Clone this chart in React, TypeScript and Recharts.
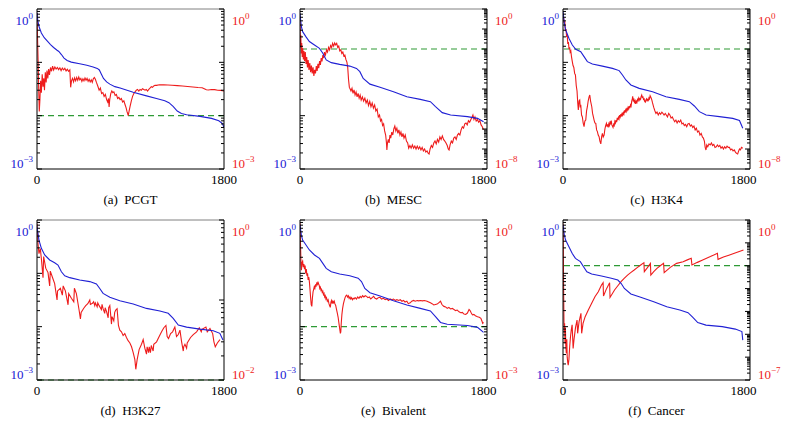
import React from 'react';
import { ComposedChart, Line, XAxis, YAxis, ReferenceLine } from 'recharts';

type Pt = [number, number];

// ---- series (x = iteration, y = value) ----
const pcgtBlue: Pt[] = [[0, 0.85], [8, 0.6], [19, 0.47], [42, 0.355], [70, 0.29], [100, 0.25], [130, 0.215], [160, 0.19], [190, 0.17], [210, 0.16], [235, 0.14], [260, 0.12], [290, 0.108], [330, 0.101], [411, 0.094], [480, 0.088], [540, 0.082], [580, 0.077], [600, 0.072], [620, 0.06], [640, 0.05], [670, 0.043], [701, 0.039], [750, 0.035], [800, 0.033], [926, 0.0275], [1054, 0.0235], [1150, 0.021], [1230, 0.019], [1270, 0.0175], [1310, 0.015], [1350, 0.0122], [1390, 0.011], [1440, 0.0104], [1569, 0.0097], [1680, 0.0089], [1750, 0.008], [1785, 0.0071], [1800, 0.006]];
const pcgtRed: Pt[] = [[0, 0.84], [5, 0.3], [10, 0.12], [15, 0.04], [22, 0.012], [28, 0.02], [35, 0.045], [42, 0.027], [50, 0.06], [58, 0.035], [65, 0.05], [72, 0.03], [80, 0.065], [88, 0.042], [96, 0.07], [104, 0.05], [112, 0.075], [120, 0.058], [130, 0.08], [140, 0.068], [150, 0.085], [160, 0.072], [172, 0.082], [184, 0.075], [196, 0.08], [208, 0.073], [220, 0.079], [232, 0.07], [244, 0.078], [256, 0.072], [268, 0.077], [280, 0.069], [292, 0.074], [304, 0.068], [316, 0.072], [324, 0.034], [332, 0.045], [342, 0.05], [352, 0.043], [362, 0.051], [372, 0.045], [382, 0.052], [392, 0.046], [402, 0.053], [412, 0.047], [422, 0.05], [432, 0.044], [442, 0.049], [452, 0.045], [462, 0.051], [472, 0.046], [482, 0.05], [492, 0.044], [502, 0.048], [512, 0.043], [522, 0.047], [532, 0.042], [542, 0.049], [552, 0.052], [562, 0.048], [572, 0.042], [585, 0.036], [598, 0.03], [610, 0.033], [622, 0.026], [634, 0.027], [646, 0.023], [658, 0.025], [670, 0.02], [680, 0.018], [688, 0.021], [694, 0.0146], [700, 0.02], [710, 0.026], [720, 0.029], [730, 0.027], [740, 0.028], [752, 0.024], [764, 0.025], [776, 0.021], [788, 0.022], [800, 0.02], [812, 0.021], [824, 0.018], [836, 0.019], [848, 0.016], [858, 0.014], [866, 0.012], [872, 0.011], [878, 0.01], [886, 0.012], [896, 0.015], [908, 0.019], [920, 0.023], [932, 0.026], [944, 0.028], [956, 0.03], [968, 0.031], [980, 0.029], [992, 0.031], [1004, 0.03], [1016, 0.032], [1028, 0.031], [1040, 0.03], [1052, 0.031], [1064, 0.029], [1076, 0.031], [1088, 0.033], [1100, 0.035], [1112, 0.034], [1124, 0.036], [1136, 0.037], [1150, 0.037], [1180, 0.038], [1220, 0.0378], [1260, 0.0376], [1300, 0.0372], [1350, 0.0366], [1400, 0.036], [1450, 0.0353], [1500, 0.0345], [1550, 0.0338], [1590, 0.0334], [1610, 0.032], [1630, 0.0305], [1650, 0.0302], [1680, 0.031], [1710, 0.0308], [1740, 0.03], [1770, 0.0298], [1800, 0.029]];

const mescBlue: Pt[] = [[0, 0.83], [13, 0.47], [26, 0.376], [59, 0.3], [92, 0.245], [142, 0.211], [191, 0.183], [224, 0.148], [257, 0.111], [307, 0.0986], [389, 0.0917], [488, 0.085], [554, 0.077], [587, 0.0668], [620, 0.05], [686, 0.039], [785, 0.034], [917, 0.028], [1048, 0.0227], [1180, 0.0202], [1279, 0.0183], [1329, 0.0148], [1395, 0.0114], [1477, 0.0103], [1642, 0.0096], [1741, 0.0089], [1800, 0.0077]];
const mescRed: Pt[] = [[0, 0.3], [4, 0.012], [8, 0.05], [12, 0.006], [17, 0.02], [22, 0.004], [27, 0.011], [33, 0.003], [39, 0.008], [45, 0.0025], [52, 0.007], [59, 0.0018], [66, 0.004], [73, 0.0012], [80, 0.0028], [88, 0.0009], [96, 0.002], [104, 0.0007], [112, 0.0015], [120, 0.0006], [128, 0.0012], [136, 0.00045], [144, 0.0009], [152, 0.0006], [160, 0.0014], [168, 0.0008], [176, 0.0018], [184, 0.0011], [192, 0.0025], [200, 0.0016], [208, 0.0035], [216, 0.0024], [224, 0.005], [232, 0.0035], [240, 0.007], [250, 0.005], [260, 0.009], [270, 0.007], [280, 0.012], [290, 0.009], [300, 0.015], [310, 0.012], [320, 0.019], [330, 0.014], [340, 0.02], [350, 0.016], [360, 0.019], [370, 0.012], [380, 0.014], [390, 0.008], [400, 0.009], [410, 0.006], [420, 0.007], [430, 0.0045], [440, 0.005], [450, 0.003], [460, 0.0022], [468, 0.0012], [476, 0.0003], [484, 0.00012], [492, 0.0001], [500, 8e-5], [510, 1.1e-4], [520, 6e-5], [530, 9e-5], [540, 5e-5], [550, 7e-5], [560, 4e-5], [570, 6e-5], [580, 3.5e-5], [590, 5e-5], [600, 2.8e-5], [612, 4e-5], [624, 2.5e-5], [636, 3.5e-5], [648, 2e-5], [660, 2.8e-5], [672, 1.5e-5], [684, 2.4e-5], [696, 1.3e-5], [708, 2e-5], [720, 1.1e-5], [732, 1.6e-5], [744, 8e-6], [756, 1e-5], [768, 4e-6], [780, 5e-6], [790, 2.5e-6], [800, 3e-6], [810, 1.5e-6], [820, 1.8e-6], [830, 8e-7], [840, 5e-7], [848, 2e-7], [852, 9e-8], [858, 2e-7], [866, 3e-7], [874, 2e-7], [882, 5e-7], [890, 3.5e-7], [900, 7e-7], [910, 5e-7], [920, 1e-6], [930, 1.4e-6], [940, 8e-7], [950, 1.1e-6], [960, 6e-7], [970, 9e-7], [980, 5e-7], [990, 7e-7], [1000, 4e-7], [1010, 6e-7], [1020, 3.5e-7], [1032, 5e-7], [1044, 2.5e-7], [1056, 2e-7], [1066, 1.1e-7], [1078, 1.5e-7], [1090, 1.1e-7], [1102, 1.6e-7], [1114, 1.1e-7], [1126, 1.4e-7], [1138, 1e-7], [1150, 1.4e-7], [1162, 1e-7], [1174, 1.3e-7], [1186, 9e-8], [1198, 1.2e-7], [1210, 8e-8], [1222, 1e-7], [1234, 7e-8], [1246, 8e-8], [1258, 6e-8], [1266, 5.6e-8], [1276, 1e-7], [1288, 1.5e-7], [1300, 1.2e-7], [1312, 2e-7], [1324, 2.5e-7], [1336, 1.8e-7], [1348, 3e-7], [1360, 2.2e-7], [1372, 4e-7], [1384, 3e-7], [1396, 4.5e-7], [1408, 3e-7], [1420, 2.5e-7], [1432, 2e-7], [1444, 1.5e-7], [1454, 1e-7], [1462, 8.9e-8], [1472, 1.6e-7], [1484, 2.5e-7], [1496, 2e-7], [1508, 3.5e-7], [1520, 4e-7], [1532, 3e-7], [1544, 5e-7], [1556, 6e-7], [1568, 5e-7], [1580, 9e-7], [1592, 1.3e-6], [1604, 1.1e-6], [1616, 1.8e-6], [1628, 2e-6], [1640, 1.6e-6], [1652, 2.6e-6], [1664, 2.2e-6], [1676, 3e-6], [1688, 4e-6], [1696, 5e-6], [1706, 3e-6], [1716, 4e-6], [1728, 2.5e-6], [1740, 3e-6], [1752, 2.2e-6], [1764, 2.6e-6], [1776, 1.6e-6], [1788, 1.3e-6], [1800, 9e-7]];

const h3k4Blue: Pt[] = [[0, 0.89], [13, 0.54], [27, 0.404], [60, 0.28], [93, 0.211], [127, 0.175], [177, 0.158], [210, 0.128], [243, 0.103], [293, 0.093], [393, 0.085], [493, 0.077], [560, 0.07], [593, 0.058], [627, 0.0467], [677, 0.0376], [760, 0.0325], [893, 0.028], [1027, 0.0227], [1160, 0.0202], [1260, 0.0183], [1310, 0.0152], [1360, 0.0119], [1427, 0.0103], [1560, 0.0096], [1693, 0.0089], [1760, 0.0081], [1793, 0.0058]];
const h3k4Red: Pt[] = [[0, 0.6], [6, 0.35], [12, 0.2], [18, 0.25], [24, 0.08], [30, 0.1], [36, 0.04], [42, 0.05], [48, 0.018], [54, 0.022], [60, 0.01], [66, 0.012], [72, 0.007], [78, 0.008], [85, 0.004], [92, 0.0025], [100, 0.0015], [108, 0.0012], [116, 0.0006], [124, 0.0005], [132, 0.00015], [140, 8e-5], [147, 2e-5], [153, 9e-6], [160, 2.5e-5], [167, 2.8e-5], [172, 1.2e-5], [177, 1.6e-5], [185, 5e-6], [193, 4e-6], [201, 2e-6], [210, 1.3e-6], [218, 2.5e-6], [227, 2.8e-6], [235, 8e-6], [243, 1.3e-5], [251, 2.5e-5], [260, 4e-5], [267, 5e-5], [275, 2.5e-5], [287, 1.3e-5], [295, 6e-6], [303, 4e-6], [310, 2.8e-6], [318, 2e-6], [327, 1.9e-6], [335, 9e-7], [343, 7.4e-7], [351, 5e-7], [360, 4.1e-7], [368, 2.5e-7], [377, 1.8e-7], [385, 4e-7], [393, 6.1e-7], [401, 4e-7], [410, 5e-7], [418, 1e-6], [426, 1.5e-6], [433, 1.9e-6], [439, 1.3e-6], [445, 1.7e-6], [451, 1.2e-6], [457, 1.8e-6], [463, 1.5e-6], [469, 2.4e-6], [475, 1.9e-6], [481, 2.6e-6], [487, 1.6e-6], [493, 1.4e-6], [499, 1.2e-6], [505, 1.7e-6], [511, 1.5e-6], [517, 2.4e-6], [523, 2e-6], [529, 2.8e-6], [535, 2.2e-6], [541, 3.6e-6], [547, 2.8e-6], [553, 3.8e-6], [559, 3.2e-6], [565, 5e-6], [571, 4e-6], [577, 5.5e-6], [583, 4.2e-6], [589, 6.5e-6], [595, 5e-6], [601, 6.5e-6], [607, 5.5e-6], [613, 8.5e-6], [619, 6.5e-6], [625, 9e-6], [631, 7.5e-6], [637, 1.15e-5], [643, 9e-6], [649, 1.2e-5], [655, 1e-5], [661, 1.4e-5], [667, 1.1e-5], [673, 1.6e-5], [679, 1.4e-5], [685, 2.4e-5], [691, 3.2e-5], [695, 4.3e-5], [701, 2.6e-5], [707, 3e-5], [713, 2.2e-5], [719, 2.6e-5], [725, 1.8e-5], [731, 2.4e-5], [737, 2.1e-5], [743, 3e-5], [749, 2.6e-5], [755, 3.5e-5], [761, 2.8e-5], [767, 3.3e-5], [773, 3e-5], [779, 4.2e-5], [785, 5e-5], [791, 3.8e-5], [797, 4e-5], [803, 3e-5], [809, 3.2e-5], [815, 2.4e-5], [821, 2.2e-5], [827, 2.8e-5], [833, 3.2e-5], [839, 2.6e-5], [845, 3e-5], [851, 2.7e-5], [857, 3.6e-5], [863, 3.2e-5], [869, 4.6e-5], [875, 4e-5], [881, 3.4e-5], [887, 2.7e-5], [893, 2e-5], [905, 1.2e-5], [917, 8e-6], [927, 6e-6], [938, 7e-6], [950, 5e-6], [962, 6.5e-6], [974, 5.5e-6], [986, 7e-6], [996, 6.1e-6], [1008, 5e-6], [1020, 6e-6], [1030, 5e-6], [1042, 4e-6], [1054, 6e-6], [1066, 5e-6], [1078, 3.5e-6], [1090, 4e-6], [1102, 3e-6], [1114, 2.3e-6], [1126, 2.8e-6], [1138, 2e-6], [1150, 2.6e-6], [1162, 2.2e-6], [1174, 2.8e-6], [1186, 1.8e-6], [1198, 2e-6], [1210, 1.5e-6], [1222, 1.7e-6], [1234, 1.3e-6], [1246, 1.8e-6], [1258, 1.9e-6], [1270, 1.4e-6], [1282, 1.6e-6], [1294, 1.2e-6], [1306, 1.4e-6], [1318, 9e-7], [1330, 1.1e-6], [1342, 7e-7], [1354, 8e-7], [1366, 5e-7], [1378, 6e-7], [1390, 4e-7], [1400, 3.5e-7], [1410, 2.5e-7], [1418, 1.2e-7], [1426, 8.9e-8], [1434, 1.6e-7], [1444, 1.3e-7], [1456, 1.8e-7], [1468, 1.6e-7], [1480, 2e-7], [1492, 1.5e-7], [1504, 1.7e-7], [1516, 1.2e-7], [1528, 1.3e-7], [1540, 1.6e-7], [1552, 1.3e-7], [1564, 1.5e-7], [1576, 1.1e-7], [1588, 1.3e-7], [1600, 1e-7], [1612, 1.3e-7], [1624, 1.1e-7], [1636, 1.4e-7], [1648, 1.2e-7], [1660, 1.2e-7], [1672, 9e-8], [1684, 1e-7], [1696, 8e-8], [1708, 9e-8], [1720, 7e-8], [1730, 6e-8], [1742, 5.6e-8], [1752, 8e-8], [1760, 1e-7], [1770, 9e-8], [1780, 1.2e-7], [1793, 1.1e-7]];

const h3k27Blue: Pt[] = [[0, 0.75], [19, 0.42], [42, 0.294], [74, 0.221], [122, 0.178], [170, 0.158], [202, 0.143], [235, 0.107], [267, 0.09], [315, 0.083], [411, 0.075], [508, 0.07], [572, 0.063], [604, 0.052], [636, 0.042], [701, 0.0355], [797, 0.0307], [926, 0.0266], [1054, 0.022], [1183, 0.0197], [1263, 0.0178], [1311, 0.0143], [1360, 0.0107], [1440, 0.0098], [1568, 0.009], [1697, 0.0084], [1760, 0.0075], [1790, 0.0056]];
const h3k27Red: Pt[] = [[0, 0.9], [10, 0.5], [19, 0.38], [32, 0.44], [45, 0.3], [58, 0.19], [64, 0.35], [84, 0.25], [106, 0.22], [122, 0.15], [128, 0.23], [150, 0.19], [170, 0.16], [193, 0.1], [198, 0.13], [225, 0.14], [244, 0.115], [252, 0.15], [273, 0.13], [299, 0.087], [305, 0.12], [331, 0.105], [354, 0.095], [360, 0.14], [379, 0.12], [405, 0.075], [418, 0.058], [425, 0.07], [450, 0.079], [469, 0.085], [489, 0.09], [508, 0.1], [514, 0.088], [534, 0.091], [545, 0.095], [556, 0.085], [562, 0.092], [579, 0.082], [585, 0.092], [598, 0.085], [620, 0.076], [626, 0.088], [636, 0.078], [652, 0.068], [656, 0.08], [669, 0.072], [685, 0.06], [690, 0.08], [701, 0.085], [717, 0.05], [722, 0.062], [739, 0.055], [748, 0.07], [758, 0.075], [771, 0.078], [784, 0.048], [797, 0.042], [813, 0.04], [829, 0.036], [845, 0.038], [861, 0.034], [877, 0.031], [894, 0.029], [910, 0.026], [926, 0.022], [942, 0.018], [951, 0.0136], [964, 0.018], [983, 0.024], [1006, 0.028], [1022, 0.032], [1038, 0.025], [1054, 0.021], [1060, 0.026], [1074, 0.022], [1080, 0.026], [1092, 0.022], [1100, 0.027], [1118, 0.023], [1124, 0.028], [1151, 0.03], [1176, 0.035], [1199, 0.04], [1221, 0.045], [1241, 0.048], [1253, 0.035], [1266, 0.033], [1286, 0.038], [1305, 0.04], [1327, 0.046], [1343, 0.035], [1360, 0.037], [1376, 0.042], [1392, 0.03], [1408, 0.023], [1412, 0.026], [1424, 0.028], [1440, 0.025], [1446, 0.029], [1478, 0.034], [1504, 0.037], [1536, 0.04], [1562, 0.045], [1581, 0.04], [1588, 0.043], [1626, 0.046], [1639, 0.04], [1665, 0.044], [1691, 0.038], [1703, 0.03], [1716, 0.026], [1736, 0.029], [1761, 0.032]];

const bivalentBlue: Pt[] = [[0, 0.81], [13, 0.52], [26, 0.42], [59, 0.34], [92, 0.274], [142, 0.221], [191, 0.191], [224, 0.154], [257, 0.124], [307, 0.107], [389, 0.097], [488, 0.09], [570, 0.081], [603, 0.07], [636, 0.052], [686, 0.0434], [785, 0.0376], [917, 0.0307], [1048, 0.0255], [1180, 0.022], [1279, 0.0197], [1329, 0.0154], [1378, 0.012], [1444, 0.0111], [1642, 0.0105], [1741, 0.0097], [1800, 0.0078]];
const bivalentRed: Pt[] = [[0, 0.87], [5, 0.35], [10, 0.15], [14, 0.115], [20, 0.16], [26, 0.17], [32, 0.13], [38, 0.15], [44, 0.12], [50, 0.14], [56, 0.1], [62, 0.12], [68, 0.09], [74, 0.1], [80, 0.075], [86, 0.085], [92, 0.07], [98, 0.05], [104, 0.035], [110, 0.026], [116, 0.024], [122, 0.035], [128, 0.045], [134, 0.05], [140, 0.056], [146, 0.052], [152, 0.06], [158, 0.058], [164, 0.065], [170, 0.062], [176, 0.07], [182, 0.063], [188, 0.06], [194, 0.052], [200, 0.055], [206, 0.048], [212, 0.05], [218, 0.044], [224, 0.046], [230, 0.04], [236, 0.042], [242, 0.036], [248, 0.038], [254, 0.033], [260, 0.035], [268, 0.03], [276, 0.032], [284, 0.027], [290, 0.025], [297, 0.023], [304, 0.029], [310, 0.031], [316, 0.027], [323, 0.03], [330, 0.028], [336, 0.03], [342, 0.027], [350, 0.025], [358, 0.021], [366, 0.018], [374, 0.015], [382, 0.0115], [390, 0.009], [396, 0.0075], [400, 0.008], [405, 0.012], [411, 0.017], [418, 0.022], [426, 0.027], [434, 0.031], [442, 0.035], [450, 0.038], [458, 0.039], [466, 0.036], [474, 0.038], [482, 0.034], [490, 0.036], [498, 0.033], [506, 0.035], [514, 0.032], [522, 0.034], [530, 0.033], [540, 0.035], [554, 0.033], [566, 0.036], [578, 0.034], [590, 0.037], [602, 0.035], [614, 0.038], [626, 0.036], [640, 0.038], [653, 0.037], [666, 0.035], [680, 0.036], [694, 0.033], [708, 0.035], [722, 0.037], [736, 0.034], [752, 0.033], [768, 0.035], [785, 0.0355], [800, 0.033], [818, 0.034], [835, 0.032], [851, 0.033], [868, 0.031], [884, 0.033], [900, 0.032], [917, 0.033], [935, 0.031], [950, 0.032], [968, 0.031], [983, 0.032], [1000, 0.03], [1015, 0.031], [1030, 0.029], [1048, 0.03], [1062, 0.027], [1081, 0.028], [1096, 0.03], [1114, 0.031], [1130, 0.03], [1150, 0.031], [1165, 0.0305], [1180, 0.031], [1200, 0.0305], [1220, 0.031], [1246, 0.03], [1262, 0.029], [1279, 0.028], [1295, 0.027], [1312, 0.0255], [1328, 0.026], [1345, 0.0265], [1360, 0.028], [1378, 0.03], [1392, 0.026], [1411, 0.024], [1428, 0.0235], [1444, 0.022], [1460, 0.023], [1476, 0.0215], [1494, 0.022], [1510, 0.021], [1526, 0.02], [1542, 0.0205], [1560, 0.019], [1576, 0.0183], [1592, 0.0185], [1608, 0.0172], [1625, 0.017], [1642, 0.018], [1658, 0.021], [1668, 0.02], [1680, 0.018], [1691, 0.0166], [1705, 0.017], [1720, 0.016], [1741, 0.0154], [1758, 0.015], [1774, 0.0143], [1786, 0.0125], [1792, 0.0115], [1800, 0.012]];

const cancerBlue: Pt[] = [[0, 0.81], [13, 0.52], [26, 0.42], [59, 0.316], [91, 0.237], [124, 0.191], [173, 0.166], [205, 0.133], [238, 0.107], [286, 0.097], [384, 0.089], [482, 0.081], [547, 0.075], [579, 0.065], [612, 0.052], [677, 0.041], [775, 0.0355], [905, 0.0294], [1035, 0.0237], [1165, 0.0205], [1247, 0.0183], [1295, 0.015], [1344, 0.0119], [1426, 0.0107], [1588, 0.01], [1719, 0.009], [1784, 0.0081], [1793, 0.0056]];
const cancerRed: Pt[] = [[0, 0.7], [3, 0.05], [6, 1e-3], [10, 3e-5], [13, 1.2e-5], [16, 3e-5], [20, 4e-6], [24, 2e-5], [28, 3e-6], [33, 1.5e-6], [38, 6e-6], [42, 1e-6], [47, 6e-7], [52, 4.5e-7], [59, 8e-7], [67, 3e-6], [75, 8e-6], [83, 1.6e-5], [91, 2.6e-5], [101, 2.4e-6], [110, 6e-6], [125, 2e-5], [140, 4.2e-5], [146, 1.1e-5], [160, 3.5e-5], [179, 8.3e-5], [186, 1.1e-5], [200, 3e-5], [221, 5.9e-5], [250, 1.1e-4], [286, 2.3e-4], [320, 4.5e-4], [352, 7.3e-4], [384, 1.43e-3], [400, 1.8e-3], [404, 4.7e-4], [430, 9e-4], [465, 1.8e-3], [469, 4.1e-4], [514, 8.7e-4], [545, 1.3e-3], [579, 2e-3], [610, 2.8e-3], [644, 3.9e-3], [675, 5e-3], [710, 6.5e-3], [740, 8.3e-3], [775, 1.08e-2], [807, 1.36e-2], [811, 5.5e-3], [840, 8e-3], [872, 1.27e-2], [876, 3.9e-3], [905, 5.5e-3], [937, 7.7e-3], [970, 1e-2], [1003, 1.27e-2], [1009, 5e-3], [1070, 8.5e-3], [1133, 1.27e-2], [1198, 1.5e-2], [1240, 1.8e-2], [1279, 2.1e-2], [1286, 1.08e-2], [1340, 1.4e-2], [1393, 1.78e-2], [1470, 2.5e-2], [1540, 3.48e-2], [1546, 1.9e-2], [1600, 2.4e-2], [1654, 2.9e-2], [1730, 3.8e-2], [1800, 4.87e-2]];

// ---- axis setup ----
const captions = ['(a)  PCGT', '(b)  MESC', '(c)  H3K4', '(d)  H3K27', '(e)  Bivalent', '(f)  Cancer'];
const blueSeries = [pcgtBlue, mescBlue, h3k4Blue, h3k27Blue, bivalentBlue, cancerBlue];
const redSeries = [pcgtRed, mescRed, h3k4Red, h3k27Red, bivalentRed, cancerRed];
const redFloorExp = [-3, -8, -8, -2, -3, -7];
const blueFloorExp = -3;
const threshold = 1e-2;
const xTicks = [0, 1800];

// ---- layout ----
const COL_LEFT = [37, 300, 563];
const ROW_TOP = [9, 220];
const X_END = [1800, 1834, 1865];
const PLOT_W = 187;
const PLOT_H = 160;
const AXIS_W = 38;
const X_AXIS_H = 30;

const BLUE = '#2020d4';
const RED = '#ee1c1c';
const GREEN = '#2e9a35';
const FONT = "'Liberation Serif', 'Times New Roman', Times, 'DejaVu Serif', serif";

function logTicks(floorExp: number): number[] {
  const out: number[] = [];
  for (let e = floorExp; e < 0; e++) {
    for (let k = 1; k <= 9; k++) out.push(Number((k * Math.pow(10, e)).toPrecision(6)));
  }
  out.push(1);
  return out;
}

function LogTick(props: any) {
  const { x, y, payload, side, color, floorExp } = props;
  const v: number = payload.value;
  const e = Math.floor(Math.log10(v) + 1e-9);
  const mant = v / Math.pow(10, e);
  const major = Math.abs(mant - 1) < 1e-6;
  const dir = side === 'left' ? 1 : -1;
  const len = major ? 5 : 3;
  let label: React.ReactNode = null;
  if (major && (e === 0 || e === floorExp)) {
    const ty = e === 0 ? y + 16 : y - 1;
    const tx = side === 'left' ? x - 4 : x + 8;
    label = (
      <text x={tx} y={ty} textAnchor={side === 'left' ? 'end' : 'start'} fill={color} fontSize={13} style={{ fontFamily: FONT }}>
        10<tspan dy={-6} fontSize={9}>{e === 0 ? '0' : '\u2212' + String(-e)}</tspan>
      </text>
    );
  }
  return (
    <g>
      <line x1={x} x2={x + dir * len} y1={y} y2={y} stroke="#000" strokeWidth={1} />
      {label}
    </g>
  );
}

function XTick(props: any) {
  const { x, y, payload } = props;
  return (
    <text x={x} y={y + 9} textAnchor="middle" fill="#000" fontSize={13} style={{ fontFamily: FONT }}>
      {String(payload.value)}
    </text>
  );
}

const toRows = (pts: Pt[]) => pts.map(([x, y]) => ({ x, y }));

function Panel({ idx }: { idx: number }) {
  const col = idx % 3;
  const row = Math.floor(idx / 3);
  const left = COL_LEFT[col];
  const top = ROW_TOP[row];
  const rFloor = redFloorExp[idx];
  return (
    <>
      <div style={{ position: 'absolute', left: left - AXIS_W, top: top - 9 }}>
        <ComposedChart
          width={PLOT_W + 2 * AXIS_W}
          height={9 + PLOT_H + X_AXIS_H}
          margin={{ top: 9, right: 0, bottom: 0, left: 0 }}
        >
          <XAxis
            type="number"
            dataKey="x"
            domain={[0, X_END[col]]}
            allowDataOverflow
            ticks={xTicks}
            interval={0}
            height={X_AXIS_H}
            tickLine={false}
            tickSize={0}
            tickMargin={6}
            axisLine={{ stroke: '#000' }}
            tick={(p: any) => <XTick {...p} />}
          />
          <YAxis
            yAxisId="L"
            orientation="left"
            scale="log"
            domain={[Math.pow(10, blueFloorExp), 1]}
            allowDataOverflow
            ticks={logTicks(blueFloorExp)}
            interval={0}
            width={AXIS_W}
            tickLine={false}
            tickSize={0}
            tickMargin={0}
            axisLine={{ stroke: '#000' }}
            tick={(p: any) => <LogTick {...p} side="left" color={BLUE} floorExp={blueFloorExp} />}
          />
          <YAxis
            yAxisId="R"
            orientation="right"
            scale="log"
            domain={[Math.pow(10, rFloor), 1]}
            allowDataOverflow
            ticks={logTicks(rFloor)}
            interval={0}
            width={AXIS_W}
            tickLine={false}
            tickSize={0}
            tickMargin={0}
            axisLine={{ stroke: '#000' }}
            tick={(p: any) => <LogTick {...p} side="right" color={RED} floorExp={rFloor} />}
          />
          <ReferenceLine yAxisId="L" y={1} stroke="#808080" strokeWidth={1} />
          <ReferenceLine yAxisId="R" y={threshold} stroke={GREEN} strokeWidth={1.2} strokeDasharray="6 4" />
          <Line
            yAxisId="R"
            data={toRows(redSeries[idx])}
            dataKey="y"
            type="linear"
            stroke={RED}
            strokeWidth={1.1}
            dot={false}
            isAnimationActive={false}
          />
          <Line
            yAxisId="L"
            data={toRows(blueSeries[idx])}
            dataKey="y"
            type="linear"
            stroke={BLUE}
            strokeWidth={1.1}
            dot={false}
            isAnimationActive={false}
          />
        </ComposedChart>
      </div>
      <div
        style={{
          position: 'absolute',
          left,
          top: top + PLOT_H + 23,
          width: PLOT_W,
          textAlign: 'center',
          fontFamily: FONT,
          fontSize: 13,
          lineHeight: '16px',
          whiteSpace: 'pre',
          color: '#000',
        }}
      >
        {captions[idx]}
      </div>
    </>
  );
}

export default function App() {
  return (
    <div style={{ position: 'absolute', left: 0, top: 0, width: 789, height: 428, background: '#fff', overflow: 'hidden' }}>
      {[0, 1, 2, 3, 4, 5].map((i) => (
        <Panel key={i} idx={i} />
      ))}
    </div>
  );
}
